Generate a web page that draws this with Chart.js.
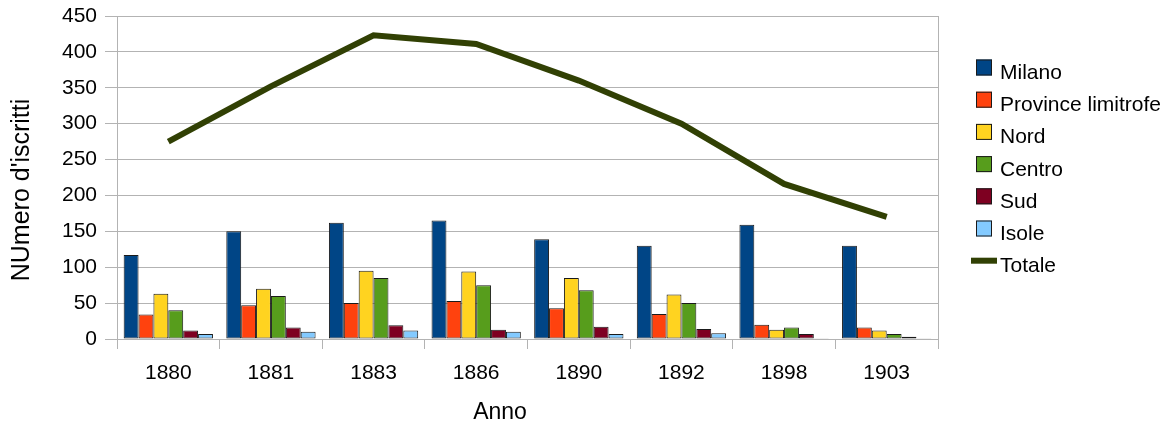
<!DOCTYPE html>
<html>
<head>
<meta charset="utf-8">
<title>Iscritti per provenienza</title>
<script src="https://cdn.jsdelivr.net/npm/chart.js@4.4.1/dist/chart.umd.min.js"></script>
<style>
  html, body { margin: 0; padding: 0; background: #ffffff; }
  #wrap { width: 1170px; height: 425px; }
</style>
</head>
<body>
<div id="wrap"><canvas id="chart" width="1170" height="425"></canvas></div>
<script>
// Anni di rilevazione
const categories = ['1880', '1881', '1883', '1886', '1890', '1892', '1898', '1903'];

// Iscritti per provenienza
const milano            = [117, 150, 162, 165, 139, 130, 159, 130];
const provinceLimitrofe = [34, 47, 50, 53, 43, 35, 20, 16];
const nord              = [63, 70, 95, 94, 85, 62, 13, 12];
const centro            = [40, 60, 85, 75, 68, 50, 16, 7];
const sud               = [12, 16, 19, 13, 17, 14, 7, 3];
const isole             = [7, 10, 12, 10, 7, 8, 1, 1];
const totale            = [275, 352, 423, 411, 360, 300, 216, 170];

// Tacche dell'asse verticale
const yTicks = [0, 50, 100, 150, 200, 250, 300, 350, 400, 450];

// Titoli degli assi
const xTitle = 'Anno';
const yTitle = "NUmero d'iscritti";

const FONT = '"Liberation Sans", Arial, "DejaVu Sans", sans-serif';
const GRID = '#b3b3b3';

function barSet(label, data, color) {
  return {
    type: 'bar',
    label: label,
    data: data,
    backgroundColor: color,
    borderColor: '#1a1a1a',
    borderWidth: 1,
    borderSkipped: false,
    categoryPercentage: 0.87,
    barPercentage: 1.0,
    order: 2
  };
}

// Riquadro destro, titoli degli assi e legenda a destra
const sideLegend = {
  id: 'sideLegend',
  beforeDatasetsDraw(chart) {
    const { ctx, chartArea } = chart;
    ctx.save();
    ctx.strokeStyle = GRID;
    ctx.lineWidth = 1;
    ctx.beginPath();
    ctx.moveTo(Math.round(chartArea.right) + 0.5, chartArea.top);
    ctx.lineTo(Math.round(chartArea.right) + 0.5, chartArea.bottom);
    ctx.stroke();
    ctx.restore();
  },
  afterDraw(chart) {
    const { ctx, chartArea } = chart;

    // titoli degli assi
    ctx.save();
    ctx.fillStyle = '#000000';
    ctx.textAlign = 'center';
    ctx.textBaseline = 'middle';
    ctx.font = '23px ' + FONT;
    ctx.fillText(xTitle, chartArea.left + 383, chartArea.bottom + 74);
    ctx.translate(22, chartArea.top + 174);
    ctx.rotate(-Math.PI / 2);
    ctx.font = '25px ' + FONT;
    ctx.fillText(yTitle, 0, 0);
    ctx.restore();

    // legenda
    const x0 = chartArea.right + 38;
    const textX = x0 + 24;
    const firstBase = chartArea.top + 63;
    const step = 32.2;
    ctx.save();
    ctx.font = '21px ' + FONT;
    ctx.textBaseline = 'alphabetic';
    ctx.textAlign = 'left';
    chart.data.datasets.forEach((ds, i) => {
      const base = firstBase + i * step;
      const cy = base - 11.5;
      if (ds.type === 'line') {
        ctx.fillStyle = ds.borderColor;
        ctx.fillRect(x0 - 5, cy - 3, 26, 6);
      } else {
        ctx.fillStyle = ds.backgroundColor;
        ctx.fillRect(x0, cy - 8, 16, 16);
        ctx.strokeStyle = '#1a1a1a';
        ctx.lineWidth = 1;
        ctx.strokeRect(x0 + 0.5, cy - 7.5, 15, 15);
      }
      ctx.fillStyle = '#000000';
      ctx.fillText(ds.label, textX, base);
    });
    ctx.restore();
  }
};

new Chart(document.getElementById('chart'), {
  data: {
    labels: categories,
    datasets: [
      barSet('Milano', milano, '#004586'),
      barSet('Province limitrofe', provinceLimitrofe, '#ff420e'),
      barSet('Nord', nord, '#ffd320'),
      barSet('Centro', centro, '#579d1c'),
      barSet('Sud', sud, '#7e0021'),
      barSet('Isole', isole, '#83caff'),
      {
        type: 'line',
        label: 'Totale',
        data: totale,
        borderColor: '#314004',
        backgroundColor: '#314004',
        borderWidth: 6,
        pointRadius: 0,
        pointHoverRadius: 0,
        tension: 0,
        fill: false,
        order: 1
      }
    ]
  },
  options: {
    responsive: false,
    devicePixelRatio: 1,
    animation: false,
    events: [],
    layout: { padding: { top: 16, right: 232, left: 0, bottom: 0 } },
    plugins: {
      legend: { display: false },
      tooltip: { enabled: false }
    },
    scales: {
      x: {
        offset: true,
        grid: { drawOnChartArea: false, drawTicks: true, tickLength: 10, color: GRID, offset: true },
        border: { color: GRID },
        ticks: { color: '#000', padding: 12, font: { family: FONT, size: 21 } },
        afterFit(scale) {
          scale.height = 86;
          scale.paddingLeft = 0;
          scale.paddingRight = 0;
        }
      },
      y: {
        min: yTicks[0],
        max: yTicks[yTicks.length - 1],
        afterBuildTicks(scale) { scale.ticks = yTicks.map(v => ({ value: v })); },
        grid: { color: GRID, tickLength: 12 },
        border: { color: GRID },
        ticks: { color: '#000', padding: 8, font: { family: FONT, size: 21 } },
        afterFit(scale) {
          scale.width = 117;
          scale.paddingTop = 0;
          scale.paddingBottom = 0;
        }
      }
    }
  },
  plugins: [sideLegend]
});
</script>
</body>
</html>
